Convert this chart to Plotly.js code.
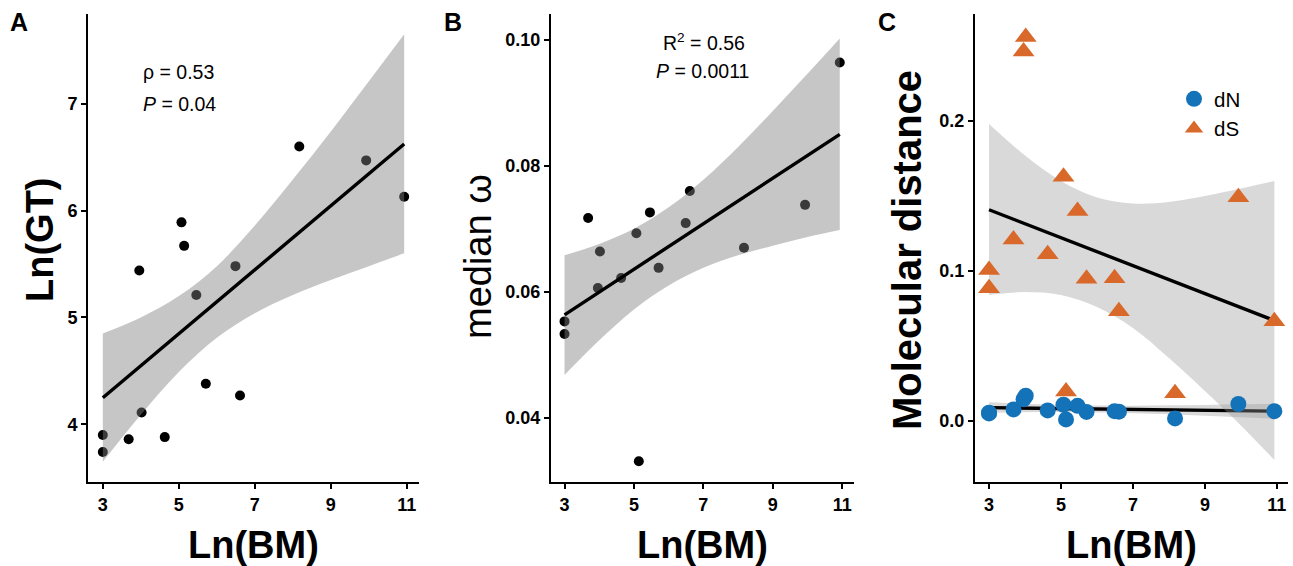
<!DOCTYPE html>
<html><head><meta charset="utf-8">
<script src="https://cdn.plot.ly/plotly-3.0.1.min.js"></script>
<style>html,body{margin:0;padding:0;background:#fff}</style>
</head><body><div id="chart" style="width:1293px;height:566px"></div>
<script>
// ---- data ----
const lnBM        = [3.0, 3.0, 3.68, 3.96, 4.02, 4.63, 5.07, 5.14, 5.46, 5.71, 6.49, 6.61, 8.17, 9.93, 10.93];
const lnGT        = [3.90, 3.74, 3.86, 5.44, 4.11, 3.88, 5.89, 5.67, 5.21, 4.38, 5.48, 4.27, 6.60, 6.47, 6.13];
const medianOmega = [0.0553, 0.0533, 0.0717, 0.0606, 0.0664, 0.0622, 0.0693, 0.0331, 0.0726, 0.0638, 0.0709, 0.0760, 0.0670, 0.0738, 0.0964];
const dN          = [0.0055, 0.0050, 0.0077, 0.0145, 0.0168, 0.0070, 0.0108, 0.0010, 0.0101, 0.0060, 0.0065, 0.0062, 0.0017, 0.0113, 0.0065];
const dS          = [0.1007, 0.0885, 0.1209, 0.2463, 0.2559, 0.1112, 0.1628, 0.0197, 0.1400, 0.0948, 0.0952, 0.0732, 0.0185, 0.1491, 0.0664];

// fitted lines (end points) and confidence bands
const fitEnds   = [3, 10.93];
const gtLine    = [4.248, 6.623];
const omegaLine = [0.05634, 0.0850];
const dSLine    = [0.1408, 0.0669];
const dNLine    = [0.0089, 0.0065];

const bandX     = [3, 4, 5, 6, 7, 8, 9, 10, 10.93];
const gtUpper   = [4.85, 5.00, 5.20, 5.48, 5.86, 6.29, 6.74, 7.21, 7.65];
const gtLower   = [3.65, 4.09, 4.49, 4.81, 5.04, 5.21, 5.35, 5.48, 5.60];
const omUpper   = [0.0658, 0.0676, 0.0700, 0.0734, 0.0778, 0.0830, 0.0887, 0.0946, 0.1002];
const omLower   = [0.0468, 0.0523, 0.0572, 0.0610, 0.0638, 0.0658, 0.0673, 0.0687, 0.0698];
const dSUpper   = [0.198, 0.177, 0.160, 0.149, 0.145, 0.146, 0.150, 0.155, 0.160];
const dSLower   = [0.084, 0.086, 0.084, 0.076, 0.062, 0.042, 0.020, -0.003, -0.026];
const dNUpper   = [0.0124, 0.0114, 0.0107, 0.0103, 0.0102, 0.0104, 0.0107, 0.0111, 0.0115];
const dNLower   = [0.0054, 0.0058, 0.0059, 0.0057, 0.0052, 0.0044, 0.0035, 0.0025, 0.0015];

const xTicks = [3, 5, 7, 9, 11];
const gtTicks = [4, 5, 6, 7];
const omTicks = [0.04, 0.06, 0.08, 0.10];
const mdTicks = [0.0, 0.1, 0.2];

// ---- styling ----
const F = 'Liberation Sans, Arial, Helvetica, sans-serif';
const W = 1293, H = 566;
const px = v => v / W;
const py = v => (H - v) / H;
const bandAB = 'rgba(129,129,129,0.45)';
const bandC  = 'rgba(153,153,153,0.37)';
const blue = '#1473B8', orange = '#D9692B';

function band(x, lo, hi, xa, ya, color) {
  return [
    {x: x, y: lo, xaxis: xa, yaxis: ya, mode: 'lines', line: {width: 0, shape: 'spline', smoothing: 1}, showlegend: false, hoverinfo: 'skip'},
    {x: x, y: hi, xaxis: xa, yaxis: ya, mode: 'lines', line: {width: 0, shape: 'spline', smoothing: 1}, fill: 'tonexty', fillcolor: color, showlegend: false, hoverinfo: 'skip'}
  ];
}
function fit(y, xa, ya) {
  return {x: fitEnds, y: y, xaxis: xa, yaxis: ya, mode: 'lines', line: {color: '#000', width: 3.4}, showlegend: false, hoverinfo: 'skip'};
}

const traces = [];
// Panel A
traces.push({x: lnBM, y: lnGT, xaxis: 'x', yaxis: 'y', mode: 'markers', marker: {color: '#000', size: 10}, showlegend: false});
traces.push(...band(bandX, gtLower, gtUpper, 'x', 'y', bandAB));
traces.push(fit(gtLine, 'x', 'y'));
// Panel B
traces.push({x: lnBM, y: medianOmega, xaxis: 'x2', yaxis: 'y2', mode: 'markers', marker: {color: '#000', size: 10}, showlegend: false});
traces.push(...band(bandX, omLower, omUpper, 'x2', 'y2', bandAB));
traces.push(fit(omegaLine, 'x2', 'y2'));
// Panel C
traces.push(...band(bandX, dNLower, dNUpper, 'x3', 'y3', bandC));
traces.push(fit(dNLine, 'x3', 'y3'));
traces.push(...band(bandX, dSLower, dSUpper, 'x3', 'y3', bandC));
traces.push(fit(dSLine, 'x3', 'y3'));
traces.push({x: lnBM, y: dN, name: 'dN', xaxis: 'x3', yaxis: 'y3', mode: 'markers', marker: {color: blue, size: 16, symbol: 'circle'}});
traces.push({x: lnBM, y: dS, name: 'dS', xaxis: 'x3', yaxis: 'y3', mode: 'markers', marker: {color: orange, size: 19, symbol: 'triangle-up'}});

const yDom = [py(482), py(14)];
function xax(d0, d1, range, anchor) {
  return {domain: [px(d0), px(d1)], range: range, anchor: anchor, tickvals: xTicks,
    showline: true, linecolor: '#000', linewidth: 2, ticks: 'outside', ticklen: 5, tickwidth: 2, tickcolor: '#000',
    showgrid: false, zeroline: false, fixedrange: true,
    tickfont: {family: F, size: 18, color: '#000', weight: 'bold'}};
}
function yax(range, ticks, fmt, anchor) {
  return {domain: yDom, range: range, anchor: anchor, tickvals: ticks, tickformat: fmt,
    showline: true, linecolor: '#000', linewidth: 2, ticks: 'outside', ticklen: 5, tickwidth: 2, tickcolor: '#000',
    showgrid: false, zeroline: false, fixedrange: true,
    tickfont: {family: F, size: 18, color: '#000', weight: 'bold'}};
}

function ann(text, x, y, size, extra) {
  return Object.assign({text: text, x: px(x), y: py(y), xref: 'paper', yref: 'paper', showarrow: false,
    xanchor: 'center', yanchor: 'middle', font: {family: F, size: size, color: '#000'}}, extra || {});
}

const annotations = [
  ann('<b>A</b>', 19, 22, 25),
  ann('<b>B</b>', 453, 22, 25),
  ann('<b>C</b>', 887, 22, 25),
  ann('ρ = 0.53', 178, 72, 19.5),
  ann('<i>P</i> = 0.04', 179, 104, 19.5),
  ann('R<sup>2</sup> = 0.56', 704, 42, 19.5),
  ann('<i>P</i> = 0.0011', 703, 71, 19.5),
  ann('<b>Ln(BM)</b>', 253, 545, 38),
  ann('<b>Ln(BM)</b>', 702, 545, 38),
  ann('<b>Ln(BM)</b>', 1131, 545, 38),
  ann('<b>Ln(GT)</b>', 40, 240, 38, {textangle: -90}),
  ann('median ω', 478, 256, 38, {textangle: -90}),
  ann('<b>Molecular distance</b>', 907, 250, 40, {textangle: -90})
];

const layout = {
  width: W, height: H, margin: {l: 0, r: 0, t: 0, b: 0},
  paper_bgcolor: '#fff', plot_bgcolor: '#fff',
  font: {family: F, color: '#000'},
  xaxis:  xax(88, 419, [2.61, 11.32], 'y'),
  yaxis:  yax([3.46, 7.84], gtTicks, 'd', 'x'),
  xaxis2: xax(551, 854, [2.61, 11.34], 'y2'),
  yaxis2: yax([0.0298, 0.1041], omTicks, '.2f', 'x2'),
  xaxis3: xax(975, 1288, [2.61, 11.31], 'y3'),
  yaxis3: yax([-0.0407, 0.2713], mdTicks, '.1f', 'x3'),
  showlegend: true,
  legend: {x: px(1174), y: py(79), xanchor: 'left', yanchor: 'top', bgcolor: 'rgba(0,0,0,0)', traceorder: 'normal',
    font: {family: F, size: 20.5, color: '#000'}, tracegroupgap: 0, itemwidth: 30},
  annotations: annotations
};

Plotly.newPlot('chart', traces, layout, {displayModeBar: false, staticPlot: true});
</script></body></html>
